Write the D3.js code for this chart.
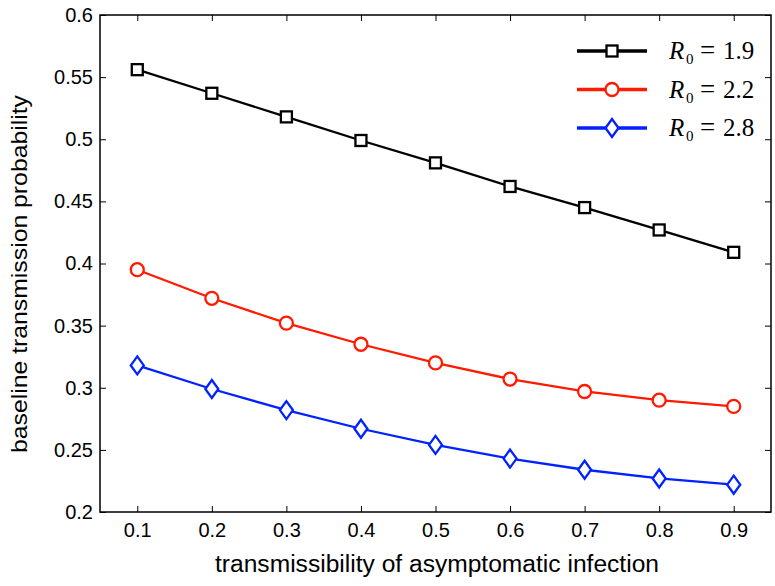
<!DOCTYPE html>
<html>
<head>
<meta charset="utf-8">
<script src="https://cdn.jsdelivr.net/npm/d3@7"></script>
<style>
  body { margin: 0; background: #fff; }
  svg { display: block; }
</style>
</head>
<body>
<div id="chart"></div>
<script>
'use strict';

const xValues = [0.1, 0.2, 0.3, 0.4, 0.5, 0.6, 0.7, 0.8, 0.9];
const r19 = [0.556, 0.537, 0.518, 0.499, 0.481, 0.462, 0.445, 0.427, 0.409];
const r22 = [0.395, 0.372, 0.352, 0.335, 0.320, 0.307, 0.297, 0.290, 0.285];
const r28 = [0.318, 0.299, 0.282, 0.267, 0.254, 0.243, 0.234, 0.227, 0.222];
const seriesNames = ['1.9', '2.2', '2.8'];
const xTicks = [0.1, 0.2, 0.3, 0.4, 0.5, 0.6, 0.7, 0.8, 0.9];
const yTicks = [0.2, 0.25, 0.3, 0.35, 0.4, 0.45, 0.5, 0.55, 0.6];

const width = 775;
const height = 586;
const plotLeft = 100, plotRight = 771, plotTop = 15, plotBottom = 512;

const series = [
  { name: seriesNames[0], values: r19, color: '#000000', marker: 'square' },
  { name: seriesNames[1], values: r22, color: '#ff1a00', marker: 'circle' },
  { name: seriesNames[2], values: r28, color: '#0022ff', marker: 'diamond' }
];

const xScale = d3.scaleLinear().domain([0.05, 0.95]).range([plotLeft, plotRight]);
const yScale = d3.scaleLinear().domain([0.2, 0.6]).range([plotBottom, plotTop]);

const svg = d3.select('#chart').append('svg')
  .attr('width', width)
  .attr('height', height);

const tickFont = '"Liberation Sans", Arial, Helvetica, sans-serif';
const fmt = d => String(+d.toFixed(2));

// axes, ticks pointing inward, mirrored on top and right
const xAxis = svg.append('g')
  .attr('transform', 'translate(0,' + plotBottom + ')')
  .call(d3.axisBottom(xScale).tickValues(xTicks).tickSizeInner(-6).tickSizeOuter(0).tickPadding(11).tickFormat(fmt));
const xAxisTop = svg.append('g')
  .attr('transform', 'translate(0,' + plotTop + ')')
  .call(d3.axisTop(xScale).tickValues(xTicks).tickSizeInner(-6).tickSizeOuter(0).tickFormat(''));
const yAxis = svg.append('g')
  .attr('transform', 'translate(' + plotLeft + ',0)')
  .call(d3.axisLeft(yScale).tickValues(yTicks).tickSizeInner(-6).tickSizeOuter(0).tickPadding(7).tickFormat(fmt));
const yAxisRight = svg.append('g')
  .attr('transform', 'translate(' + plotRight + ',0)')
  .call(d3.axisRight(yScale).tickValues(yTicks).tickSizeInner(-6).tickSizeOuter(0).tickFormat(''));

[xAxis, xAxisTop, yAxis, yAxisRight].forEach(function (a) {
  a.select('.domain').remove();
  a.selectAll('.tick line').attr('stroke', '#000').attr('stroke-width', 1);
  a.selectAll('.tick text')
    .attr('fill', '#000')
    .style('font-family', tickFont)
    .style('font-size', '20px');
});

svg.append('rect')
  .attr('x', plotLeft).attr('y', plotTop)
  .attr('width', plotRight - plotLeft).attr('height', plotBottom - plotTop)
  .attr('fill', 'none').attr('stroke', '#000').attr('stroke-width', 1.5);

// axis labels
svg.append('text')
  .attr('x', 437)
  .attr('y', 572)
  .attr('text-anchor', 'middle')
  .attr('textLength', 444)
  .attr('lengthAdjust', 'spacingAndGlyphs')
  .style('font-family', tickFont)
  .style('font-size', '23px')
  .text('transmissibility of asymptomatic infection');

svg.append('text')
  .attr('transform', 'translate(27,274) rotate(-90)')
  .attr('text-anchor', 'middle')
  .attr('textLength', 358)
  .attr('lengthAdjust', 'spacingAndGlyphs')
  .style('font-family', tickFont)
  .style('font-size', '22px')
  .text('baseline transmission probability');

function drawMarker(g, type, color) {
  if (type === 'square') {
    g.append('rect').attr('x', -5.5).attr('y', -5.5).attr('width', 11).attr('height', 11)
      .attr('fill', '#fff').attr('stroke', color).attr('stroke-width', 2.3);
  } else if (type === 'circle') {
    g.append('circle').attr('r', 6.5)
      .attr('fill', '#fff').attr('stroke', color).attr('stroke-width', 2.3);
  } else {
    g.append('path').attr('d', 'M0,-9L6.5,0L0,9L-6.5,0Z')
      .attr('fill', '#fff').attr('stroke', color).attr('stroke-width', 2.3);
  }
}

const line = d3.line()
  .x((d, i) => xScale(xValues[i]))
  .y(d => yScale(d));

series.forEach(function (s) {
  const g = svg.append('g');
  g.append('path')
    .datum(s.values)
    .attr('d', line)
    .attr('fill', 'none')
    .attr('stroke', s.color)
    .attr('stroke-width', 2.3);

  g.selectAll('.marker')
    .data(s.values)
    .enter().append('g')
    .attr('class', 'marker')
    .attr('transform', (d, i) => 'translate(' + xScale(xValues[i]) + ',' + yScale(d) + ')')
    .each(function () { drawMarker(d3.select(this), s.marker, s.color); });
});

// legend
const legend = svg.append('g');
const serif = '"Liberation Serif", "Times New Roman", serif';
series.forEach(function (s, i) {
  const y = 51 + i * 38.5;
  const item = legend.append('g').attr('transform', 'translate(0,' + y + ')');
  item.append('line')
    .attr('x1', 577).attr('x2', 647)
    .attr('stroke', s.color).attr('stroke-width', 3.5);
  const m = item.append('g').attr('transform', 'translate(612,0)');
  drawMarker(m, s.marker, s.color);
  const t = item.append('text')
    .attr('y', 8)
    .style('font-family', serif)
    .style('font-size', '25px');
  t.append('tspan').attr('x', 669).style('font-style', 'italic').text('R');
  t.append('tspan').attr('x', 686).attr('dy', 5).style('font-size', '15px').text('0');
  t.append('tspan').attr('x', 700).attr('dy', -5).style('font-size', '27px').text('=');
  t.append('tspan').attr('x', 723).text(s.name);
});
</script>
</body>
</html>
